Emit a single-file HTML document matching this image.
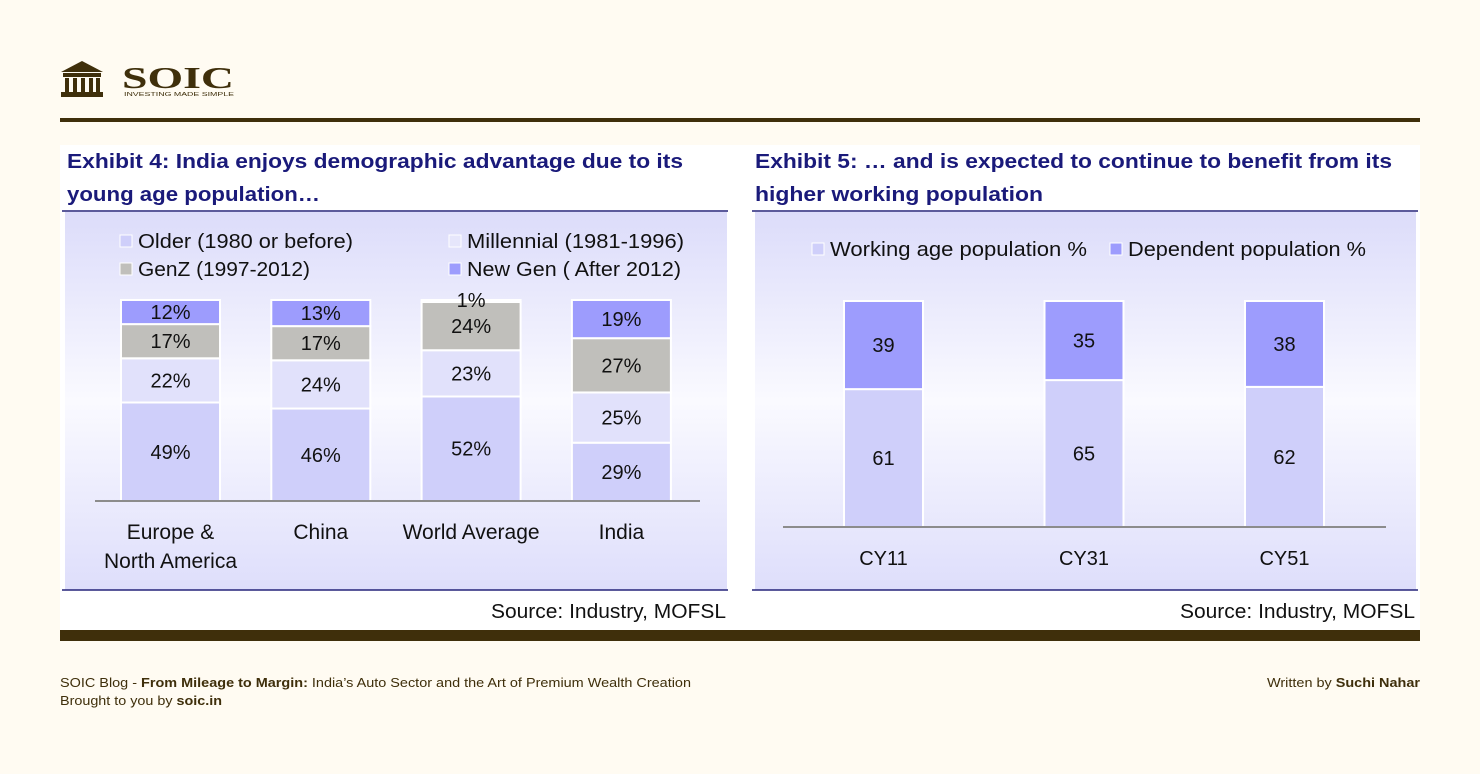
<!DOCTYPE html>
<html><head><meta charset="utf-8"><style>
html,body{margin:0;padding:0;background:#fffbf2;}
svg{display:block;font-family:"Liberation Sans",sans-serif;}
</style></head><body>
<svg id="s" width="1480" height="774" viewBox="0 0 1480 774">
<defs>
<linearGradient id="g" x1="0" y1="0" x2="0" y2="1">
<stop offset="0" stop-color="#dcdcfa"/><stop offset="0.5" stop-color="#fafaff"/><stop offset="1" stop-color="#dedefb"/>
</linearGradient>
</defs>
<g>
<path d="M61,72 L82,61 L103,72 Z" fill="#3f2f0b"/>
<rect x="63" y="73" width="38" height="4" fill="#3f2f0b"/>
<rect x="65" y="78" width="4" height="14" fill="#3f2f0b"/><rect x="73" y="78" width="4" height="14" fill="#3f2f0b"/><rect x="81" y="78" width="4" height="14" fill="#3f2f0b"/><rect x="89" y="78" width="4" height="14" fill="#3f2f0b"/><rect x="96" y="78" width="4" height="14" fill="#3f2f0b"/>
<rect x="61" y="92" width="42" height="5" fill="#3f2f0b"/>
<text x="122" y="88" font-family="Liberation Serif,serif" font-weight="bold" font-size="31" fill="#3f2f0b" textLength="112" lengthAdjust="spacingAndGlyphs">SOIC</text>
<text x="124" y="96" font-size="5" fill="#3f2f0b" textLength="110" lengthAdjust="spacingAndGlyphs">INVESTING MADE SIMPLE</text>
</g>
<rect x="60" y="118" width="1360" height="4" fill="#3f2f0b"/>
<rect x="60" y="145" width="1360" height="485" fill="#ffffff"/>
<rect x="65" y="212" width="662" height="378" fill="url(#g)"/>
<rect x="755" y="212" width="661" height="378" fill="url(#g)"/>
<line x1="62" y1="211" x2="728" y2="211" stroke="#25247a" stroke-width="1.5"/>
<line x1="752" y1="211" x2="1418" y2="211" stroke="#25247a" stroke-width="1.5"/>
<line x1="62" y1="590" x2="728" y2="590" stroke="#25247a" stroke-width="1.5"/>
<line x1="752" y1="590" x2="1418" y2="590" stroke="#25247a" stroke-width="1.5"/>
<g font-weight="bold" font-size="20" fill="#1a1a7a">
<text x="67" y="168" textLength="616" lengthAdjust="spacingAndGlyphs">Exhibit 4: India enjoys demographic advantage due to its</text>
<text x="67" y="201" textLength="253" lengthAdjust="spacingAndGlyphs">young age population…</text>
<text x="755" y="168" textLength="637" lengthAdjust="spacingAndGlyphs">Exhibit 5: … and is expected to continue to benefit from its</text>
<text x="755" y="201" textLength="288" lengthAdjust="spacingAndGlyphs">higher working population</text>
</g>
<g font-size="20" fill="#111">
<text x="491" y="618" textLength="235" lengthAdjust="spacingAndGlyphs">Source: Industry, MOFSL</text>
<text x="1180" y="618" textLength="235" lengthAdjust="spacingAndGlyphs">Source: Industry, MOFSL</text>
</g>
<g font-size="20" fill="#111">
<rect x="120" y="235" width="12" height="12" fill="#cfcffa" stroke="#fff"/><text x="138" y="248" textLength="215" lengthAdjust="spacingAndGlyphs">Older (1980 or before)</text>
<rect x="120" y="263" width="12" height="12" fill="#c0bfbb" stroke="#fff"/><text x="138" y="276" textLength="172" lengthAdjust="spacingAndGlyphs">GenZ (1997-2012)</text>
<rect x="449" y="235" width="12" height="12" fill="#e6e6fb" stroke="#fff"/><text x="467" y="248" textLength="217" lengthAdjust="spacingAndGlyphs">Millennial (1981-1996)</text>
<rect x="449" y="263" width="12" height="12" fill="#9d9cfd" stroke="#fff"/><text x="467" y="276" textLength="214" lengthAdjust="spacingAndGlyphs">New Gen ( After 2012)</text>
<rect x="812" y="243" width="12" height="12" fill="#cfcffa" stroke="#fff"/><text x="830" y="256" textLength="257" lengthAdjust="spacingAndGlyphs">Working age population  %</text>
<rect x="1110" y="243" width="12" height="12" fill="#9d9cfd" stroke="#fff"/><text x="1128" y="256" textLength="238" lengthAdjust="spacingAndGlyphs">Dependent population %</text>
</g>
<g id="left"></g>
<g id="right"></g>
<line x1="95" y1="501" x2="700" y2="501" stroke="#8c8c8c" stroke-width="2"/>
<line x1="783" y1="527" x2="1386" y2="527" stroke="#8c8c8c" stroke-width="2"/>
<rect x="60" y="630" width="1360" height="11" fill="#3f2f0b"/>
<g font-size="13" fill="#3f2f0b">
<text x="60" y="687" textLength="631" lengthAdjust="spacingAndGlyphs">SOIC Blog - <tspan font-weight="bold">From Mileage to Margin:</tspan> India’s Auto Sector and the Art of Premium Wealth Creation</text>
<text x="60" y="705" textLength="162" lengthAdjust="spacingAndGlyphs">Brought to you by <tspan font-weight="bold">soic.in</tspan></text>
<text x="1267" y="687" textLength="153" lengthAdjust="spacingAndGlyphs">Written by <tspan font-weight="bold">Suchi Nahar</tspan></text>
</g>
</svg>
<script>
const leftCats=[["Europe &","North America"],["China"],["World Average"],["India"]];
const older=[49,46,52,29];
const millennial=[22,24,23,25];
const genz=[17,17,24,27];
const newGen=[12,13,1,19];
const rightCats=["CY11","CY31","CY51"];
const working=[61,65,62];
const dependent=[39,35,38];
const NS="http://www.w3.org/2000/svg";
function mk(p,t,a){const e=document.createElementNS(NS,t);for(const k in a)e.setAttribute(k,a[k]);p.appendChild(e);return e;}
const lBase=501,lTop=300;
const ly=v=>lBase-(v/100)*(lBase-lTop);
const lx=i=>121+i*150.3;
const L=document.getElementById('left');
const lSeries=[[older,"#cfcffa","older"],[millennial,"#e1e1fb","millennial"],[genz,"#c0bfbb","genz"],[newGen,"#9d9cfd","new-gen"]];
leftCats.forEach((c,i)=>{
  let cum=0;
  lSeries.forEach(([arr,col,nm])=>{
    const v=arr[i];const y0=ly(cum),y1=ly(cum+v);cum+=v;
    const r=mk(L,'rect',{x:lx(i),y:y1,width:99,height:y0-y1,fill:col,stroke:'#fff','stroke-width':2});
    
    
    let ty=(y0+y1)/2+7;
    if(v<3) ty=y1+7;
    const t=mk(L,'text',{x:lx(i)+49.5,y:ty,'text-anchor':'middle','font-size':20,fill:'#111'});
    t.textContent=v+'%';
    
    
  });
  c.forEach((line,j)=>{
    const t=mk(L,'text',{x:lx(i)+49.5,y:539+j*29,'text-anchor':'middle','font-size':21,fill:'#111'});
    t.textContent=line;
    
    
  });
});
const rBase=527,rTop=301;
const ry=v=>rBase-(v/100)*(rBase-rTop);
const rx=i=>844+i*200.5;
const R=document.getElementById('right');
const rSeries=[[working,"#cfcffa","working"],[dependent,"#9d9cfd","dependent"]];
rightCats.forEach((c,i)=>{
  let cum=0;
  rSeries.forEach(([arr,col,nm])=>{
    const v=arr[i];const y0=ry(cum),y1=ry(cum+v);cum+=v;
    const r=mk(R,'rect',{x:rx(i),y:y1,width:79,height:y0-y1,fill:col,stroke:'#fff','stroke-width':2});
    
    
    const t=mk(R,'text',{x:rx(i)+39.5,y:(y0+y1)/2+7,'text-anchor':'middle','font-size':20,fill:'#111'});
    t.textContent=v;
    
    
  });
  const t=mk(R,'text',{x:rx(i)+39.5,y:565,'text-anchor':'middle','font-size':20,fill:'#111'});
  t.textContent=c;
  
  
});
</script>
</body></html>
